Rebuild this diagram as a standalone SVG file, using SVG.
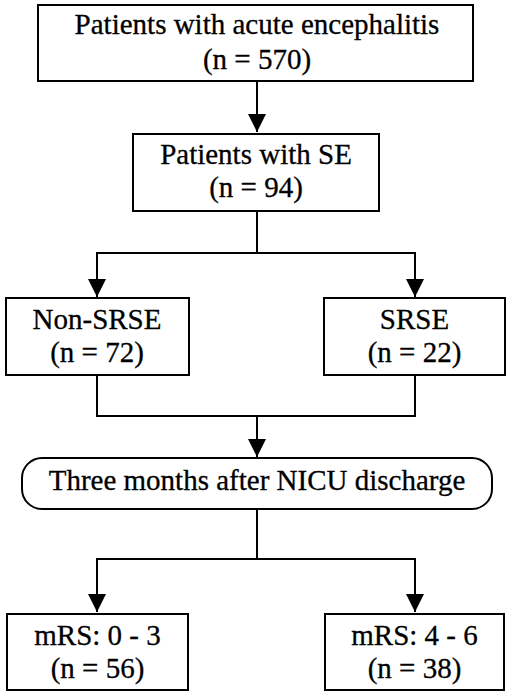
<svg xmlns="http://www.w3.org/2000/svg" width="510" height="699" viewBox="0 0 510 699">
<defs>
<style>
.box{fill:#fff;stroke:#000;stroke-width:2}
.t{font-family:"Liberation Serif","Times New Roman",serif;font-size:29px;fill:#000;text-anchor:middle;stroke:#000;stroke-width:0.3}
.c{fill:none;stroke:#000;stroke-width:2}
</style>
<marker id="ah" viewBox="0 0 18 18" refX="18" refY="9" markerWidth="18" markerHeight="18" markerUnits="userSpaceOnUse" orient="auto">
<path d="M0,0 L18,9 L0,18 Z" fill="#000"/>
</marker>
</defs>
<rect width="510" height="699" fill="#fff"/>
<g id="connectors">
<path class="c" d="M257,81 V132" marker-end="url(#ah)"/>
<path class="c" d="M257,211 V253 M97,253 H415"/>
<path class="c" d="M97,252 V297" marker-end="url(#ah)"/>
<path class="c" d="M415,252 V297" marker-end="url(#ah)"/>
<path class="c" d="M97,375 V416 H415 V375"/>
<path class="c" d="M257,416 V457" marker-end="url(#ah)"/>
<path class="c" d="M257,509 V559 M97,559 H415"/>
<path class="c" d="M97,558 V612" marker-end="url(#ah)"/>
<path class="c" d="M415,558 V612" marker-end="url(#ah)"/>
</g>
<g id="node-all">
<rect class="box" x="38" y="5" width="435" height="76"/>
<text class="t" x="257" y="34">Patients with acute encephalitis</text>
<text class="t" x="257" y="69">(n = 570)</text>
</g>
<g id="node-se">
<rect class="box" x="133" y="134" width="246" height="77"/>
<text class="t" x="256" y="164">Patients with SE</text>
<text class="t" x="256" y="197">(n = 94)</text>
</g>
<g id="node-nonsrse">
<rect class="box" x="6" y="298" width="183" height="77"/>
<text class="t" x="97" y="329">Non-SRSE</text>
<text class="t" x="97" y="362">(n = 72)</text>
</g>
<g id="node-srse">
<rect class="box" x="324" y="298" width="181" height="77"/>
<text class="t" x="414.5" y="329">SRSE</text>
<text class="t" x="414.5" y="362">(n = 22)</text>
</g>
<g id="node-3m">
<rect class="box" x="22" y="458" width="470" height="51" rx="20" ry="20"/>
<text class="t" x="257" y="490">Three months after NICU discharge</text>
</g>
<g id="node-mrs03">
<rect class="box" x="7" y="614" width="181" height="76"/>
<text class="t" x="97.5" y="645">mRS: 0 - 3</text>
<text class="t" x="97.5" y="678">(n = 56)</text>
</g>
<g id="node-mrs46">
<rect class="box" x="325" y="614" width="179" height="76"/>
<text class="t" x="414.5" y="645">mRS: 4 - 6</text>
<text class="t" x="414.5" y="678">(n = 38)</text>
</g>
</svg>
